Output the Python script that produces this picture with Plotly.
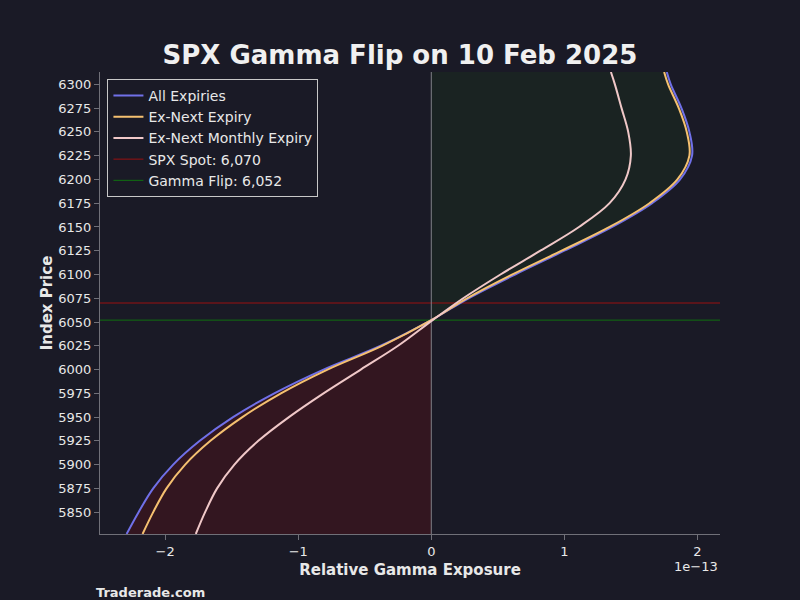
import plotly.graph_objects as go

price = [5827, 5850, 5875, 5900, 5925, 5950, 5975, 6000, 6025, 6052, 6075, 6100, 6125, 6150, 6175, 6200, 6225, 6250, 6275, 6300, 6313]
all_exp = [-2.29, -2.20, -2.09, -1.94, -1.74, -1.49, -1.18, -0.81, -0.38, 0.0, 0.28, 0.63, 1.00, 1.36, 1.66, 1.87, 1.96, 1.94, 1.88, 1.80, 1.77]
ex_next = [-2.17, -2.09, -1.99, -1.85, -1.66, -1.42, -1.13, -0.78, -0.37, 0.0, 0.27, 0.61, 0.98, 1.34, 1.64, 1.85, 1.94, 1.92, 1.86, 1.78, 1.75]
ex_monthly = [-1.77, -1.70, -1.61, -1.48, -1.30, -1.07, -0.81, -0.53, -0.25, 0.01, 0.24, 0.52, 0.82, 1.11, 1.34, 1.46, 1.50, 1.48, 1.43, 1.38, 1.35]
spot = 6070
flip = 6052

BG = "#1a1a26"
fig = go.Figure()
neg = [i for i, p in enumerate(price) if p <= flip]
pos = [i for i, p in enumerate(price) if p >= flip]
fig.add_trace(go.Scatter(x=[all_exp[i] for i in neg], y=[price[i] for i in neg], mode="lines", fill="tozerox",
                         fillcolor="#331620", line=dict(width=0, shape="spline"), showlegend=False, hoverinfo="skip"))
fig.add_trace(go.Scatter(x=[all_exp[i] for i in pos], y=[price[i] for i in pos], mode="lines", fill="tozerox",
                         fillcolor="#1a2322", line=dict(width=0, shape="spline"), showlegend=False, hoverinfo="skip"))
fig.add_trace(go.Scatter(x=[-2.49, 2.17], y=[spot, spot], mode="lines", showlegend=False, line=dict(color="#9a1010", width=1), hoverinfo="skip"))
fig.add_trace(go.Scatter(x=[-2.49, 2.17], y=[flip, flip], mode="lines", showlegend=False, line=dict(color="#107010", width=1), hoverinfo="skip"))
fig.add_trace(go.Scatter(x=[0, 0], y=[5827, 6313], mode="lines", showlegend=False, line=dict(color="#808088", width=1), hoverinfo="skip"))
fig.add_trace(go.Scatter(x=all_exp, y=price, mode="lines", name="All Expiries", line=dict(color="#7070e8", width=2, shape="spline")))
fig.add_trace(go.Scatter(x=ex_next, y=price, mode="lines", name="Ex-Next Expiry", line=dict(color="#f5c070", width=2, shape="spline")))
fig.add_trace(go.Scatter(x=ex_monthly, y=price, mode="lines", name="Ex-Next Monthly Expiry", line=dict(color="#f0c8c8", width=2, shape="spline")))
fig.add_trace(go.Scatter(x=[None], y=[None], mode="lines", name=f"SPX Spot: {spot:,}", line=dict(color="#9a1010", width=1)))
fig.add_trace(go.Scatter(x=[None], y=[None], mode="lines", name=f"Gamma Flip: {flip:,}", line=dict(color="#107010", width=1)))

fig.update_layout(
    width=800, height=600, paper_bgcolor=BG, plot_bgcolor=BG,
    margin=dict(l=100, r=80, t=72, b=66),
    font=dict(family="DejaVu Sans", color="#e8e8e8", size=13),
    title=dict(text="<b>SPX Gamma Flip on 10 Feb 2025</b>", x=0.5, xanchor="center", y=0.908, yanchor="middle", font=dict(size=26, color="#f0f0f0")),
    legend=dict(x=0.012, y=0.985, xanchor="left", yanchor="top", bgcolor=BG, bordercolor="#c8c8c8", borderwidth=1, font=dict(size=14),
                tracegroupgap=0),
    xaxis=dict(range=[-2.49, 2.17], tickvals=[-2, -1, 0, 1, 2], ticktext=["−2", "−1", "0", "1", "2"], showgrid=False, zeroline=False,
               showline=True, linecolor="#707078", ticks="outside", tickcolor="#707078",
               title=dict(text="<b>Relative Gamma Exposure</b>", font=dict(size=15), standoff=6)),
    yaxis=dict(range=[5827, 6313], dtick=25, showgrid=False, zeroline=False, showline=True, linecolor="#707078",
               ticks="outside", tickcolor="#707078", tickformat="d",
               title=dict(text="<b>Index Price</b>", font=dict(size=15), standoff=2)),
)
fig.add_annotation(text="1e−13", xref="paper", yref="paper", x=1.0, y=-0.05, xanchor="right", yanchor="top", showarrow=False, font=dict(size=13))
fig.add_annotation(text="<b>Traderade.com</b>", xref="paper", yref="paper", x=-0.01, y=-0.105, xanchor="left", yanchor="top", showarrow=False, font=dict(size=13))
fig.write_html("out.html", config={"displayModeBar": False})
with open("out.html") as f:
    html = f.read()
html = html.replace("<body>", '<body style="margin:0;background:#1a1a26">', 1)
with open("out.html", "w") as f:
    f.write(html)
